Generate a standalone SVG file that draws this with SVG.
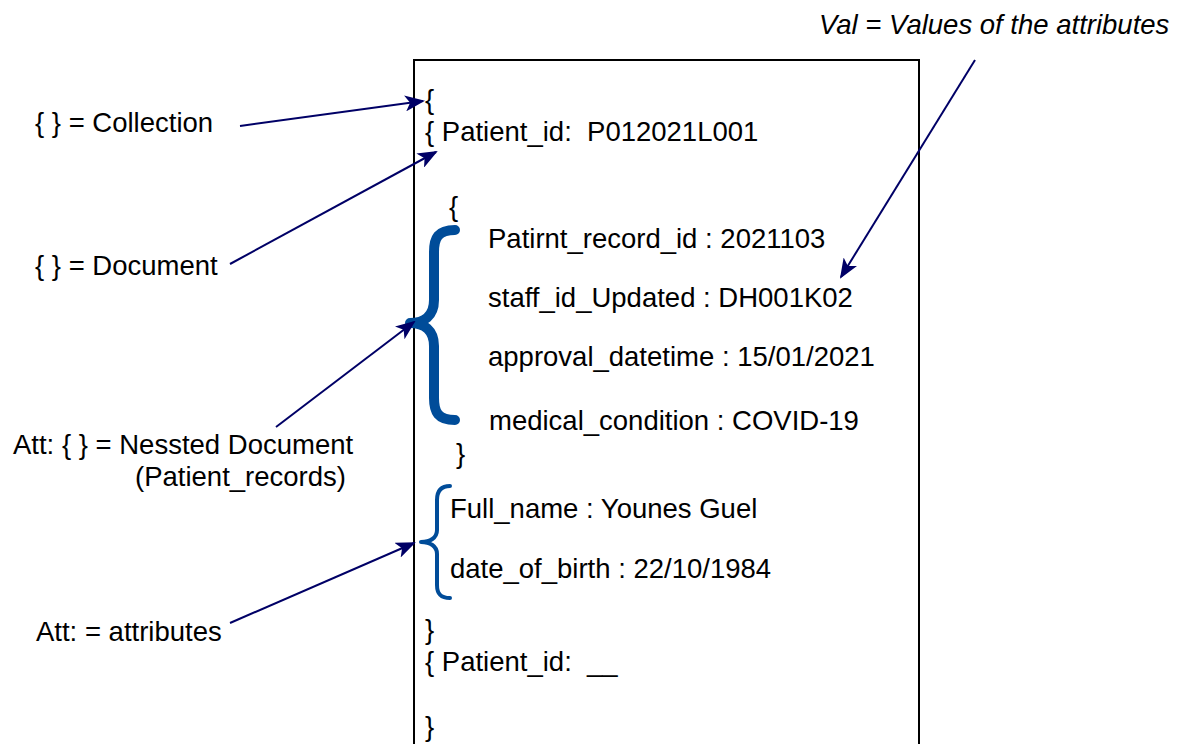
<svg xmlns="http://www.w3.org/2000/svg" width="1180" height="744" viewBox="0 0 1180 744">
  <style>
    text { font-family: "Liberation Sans", Arial, sans-serif; font-size: 27.5px; fill: #000; white-space: pre; }
    .it { font-style: italic; }
    .conn { stroke: #000066; stroke-width: 2; fill: none; marker-end: url(#arrow); }
    .brace { stroke: #004C99; fill: none; stroke-linecap: round; stroke-linejoin: round; }
  </style>
  <defs>
    <marker id="arrow" viewBox="0 0 20 16" refX="18" refY="8" markerWidth="20" markerHeight="16" markerUnits="userSpaceOnUse" orient="auto">
      <path d="M0,0 L20,8 L0,16 L5,8 Z" fill="#000066"/>
    </marker>
  </defs>
  <rect width="1180" height="744" fill="#fff"/>

  <!-- document container -->
  <g id="container">
    <path d="M414,760 V60 H919 V760" fill="none" stroke="#000" stroke-width="2"/>
  </g>

  <!-- JSON-like contents -->
  <g id="collection-open"><text x="425" y="109">{</text></g>
  <g id="document"><text x="425" y="141" xml:space="preserve">{ Patient_id:  P012021L001</text></g>
  <g id="nested-open"><text x="449" y="216">{</text></g>
  <g id="nested-brace">
    <path class="brace" stroke-width="10" d="M455,230 C438,230 434,238 434,252 V300 C434,316 424,323 410,323 C424,323 434,330 434,346 V398 C434,412 438,420 455,420"/>
  </g>
  <g id="patient-record">
    <text x="488" y="248">Patirnt_record_id : 2021103</text>
    <text x="488" y="307">staff_id_Updated : DH001K02</text>
    <text x="488" y="366">approval_datetime : 15/01/2021</text>
    <text x="489" y="430">medical_condition : COVID-19</text>
  </g>
  <g id="nested-close"><text x="456" y="463">}</text></g>
  <g id="attr-brace">
    <path class="brace" stroke-width="4" d="M450,486 C440,486 437,492 437,500 V530 C437,538 430,542 421,542 C430,542 437,546 437,554 V585 C437,593 440,598 450,598"/>
  </g>
  <g id="attributes">
    <text x="450" y="518">Full_name : Younes Guel</text>
    <text x="450" y="578">date_of_birth : 22/10/1984</text>
  </g>
  <g id="document-close"><text x="425" y="639">}</text></g>
  <g id="document-next"><text x="425" y="671" xml:space="preserve">{ Patient_id:  __</text></g>
  <g id="document-next-close"><text x="425" y="736">}</text></g>

  <!-- legend labels -->
  <g id="label-collection"><text x="35" y="132">{ } = Collection</text></g>
  <g id="label-document"><text x="35" y="275">{ } = Document</text></g>
  <g id="label-nested">
    <text x="13" y="454">Att: { } = Nessted Document</text>
    <text x="135" y="486">(Patient_records)</text>
  </g>
  <g id="label-attributes"><text x="36" y="641">Att: = attributes</text></g>
  <g id="label-values"><text class="it" x="819" y="34">Val = Values of the attributes</text></g>

  <!-- connectors -->
  <g id="connectors">
    <line class="conn" x1="240" y1="126" x2="423" y2="101"/>
    <line class="conn" x1="230" y1="264" x2="436" y2="152"/>
    <line class="conn" x1="276" y1="427" x2="414" y2="322"/>
    <line class="conn" x1="230" y1="623" x2="414" y2="543"/>
    <line class="conn" x1="975" y1="60" x2="841" y2="277"/>
  </g>
</svg>
